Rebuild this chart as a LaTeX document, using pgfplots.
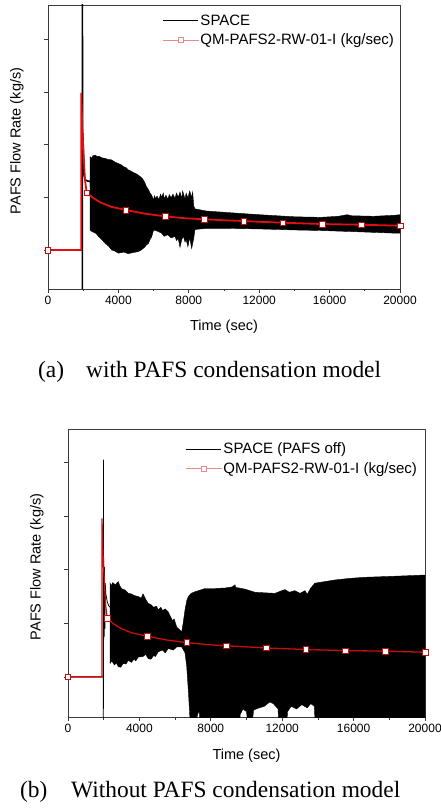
\documentclass[border=0pt]{standalone}
\usepackage{fontspec}
\setmainfont{Liberation Sans}
\newfontfamily\capfont{Liberation Serif}
\usepackage{pgfplots}
\pgfplotsset{compat=1.18}
\definecolor{redline}{HTML}{E01010}
\definecolor{legred}{HTML}{E88A8A}
\definecolor{framecol}{HTML}{3A3A3A}

\pgfplotsset{
  pafs/.style={
    scale only axis,
    xmin=0, xmax=20000,
    scaled x ticks=false,
    xtick={0,4000,8000,12000,16000,20000},
    xticklabels={0,4000,8000,12000,16000,20000},
    minor xtick={2000,6000,10000,14000,18000},
    ytick={0,1,2,3,4},
    yticklabels={},
    tick align=outside,
    xtick pos=bottom, ytick pos=left,
    major tick length=4pt, minor tick length=2.5pt,
    tick style={color=framecol, line width=0.7pt},
    axis line style={color=framecol, line width=0.8pt},
    tick label style={font=\fontsize{12}{14}\selectfont},
    label style={font=\fontsize{14.5}{17}\selectfont},
    xlabel={Time (sec)},
    ylabel={PAFS Flow Rate (kg/s)},
    xlabel style={at={([yshift=-42pt]axis description cs:0.5,0)}, anchor=base},
    ylabel style={at={([xshift=-31pt,yshift=6pt]axis description cs:0,0.5)}, anchor=center},
    legend cell align=left,
    legend style={draw=none, fill=none, font=\fontsize{15}{18}\selectfont,
      anchor=north west, inner sep=0pt, row sep=4pt, nodes={inner sep=1.5pt}},
  },
  redleg/.style={
    legend image code/.code={
      \draw[color=legred, line width=0.6pt] (0pt,0pt) -- (36pt,0pt);
      \draw[color=legred, fill=white, line width=0.6pt] (15.8pt,-2.3pt) rectangle (20.2pt,2.3pt);
    }
  },
  blackleg/.style={
    legend image code/.code={\draw[##1] (0pt,0pt) -- (35pt,0pt);}
  },
}

\begin{document}
\begin{tikzpicture}
\path[use as bounding box] (0pt,0pt) rectangle (441pt,812pt);

% ---------------- panel (a) ----------------
\begin{axis}[pafs,
  at={(48pt,523pt)}, anchor=south west,
  width=352pt, height=284pt,
  ymin=-0.74, ymax=4.65,
  legend style={at={(0.323,0.972)}},
]
\addplot[black, line width=1.6pt, blackleg] coordinates {
(0,0)(1950,0)(1950,-1)(1955,5)(1962,2.28)(1990,2.1)(2020,1.7)(2060,1.42)(2120,1.33)(2250,1.31)(2386,1.3)
};
\addlegendentry{SPACE}
\addplot[black, fill=black, line width=0.4pt, forget plot] coordinates {
(2386,1.3)(2390,1.77)(2480,1.74)(2550,1.79)(2700,1.80)(2800,1.77)(2900,1.78)(3050,1.75)(3239,1.74)(3400,1.72)(3617,1.71)(3800,1.67)(4000,1.64)(4150,1.62)(4300,1.58)(4450,1.56)(4564,1.52)(4700,1.50)(4850,1.47)(5000,1.45)(5133,1.42)(5250,1.39)(5350,1.36)(5450,1.31)(5511,1.27)(5600,1.20)(5700,1.15)(5800,1.08)(5890,1.04)(6000,0.95)(6050,1.03)(6100,0.98)(6200,1.02)(6300,0.96)(6400,1.06)(6458,1.0)(6550,1.08)(6600,0.97)(6700,1.04)(6800,0.97)(6900,1.05)(7000,0.99)(7100,1.06)(7216,0.98)(7300,1.08)(7400,1.0)(7500,1.10)(7600,0.98)(7650,1.12)(7784,0.97)(7850,1.08)(7950,0.99)(8050,1.12)(8163,1.0)(8220,1.10)(8280,0.84)(8352,0.78)(9000,0.74)(10245,0.71)(12000,0.67)(14034,0.63)(15500,0.62)(16500,0.64)(17000,0.67)(17254,0.65)(18500,0.64)(19716,0.66)(20000,0.67)
(20000,0.32)(19716,0.32)(17254,0.35)(15500,0.37)(14034,0.38)(12000,0.40)(10245,0.41)(9000,0.41)(8352,0.39)(8280,0.22)(8163,0.03)(8050,0.24)(7950,0.06)(7850,0.2)(7784,0.15)(7700,0.26)(7600,0.2)(7500,0.05)(7400,0.22)(7300,0.18)(7216,0.26)(7000,0.23)(6800,0.29)(6600,0.26)(6458,0.32)(6200,0.36)(6000,0.38)(5890,0.25)(5800,0.2)(5700,0.12)(5600,0.1)(5511,0.06)(5300,0.0)(5133,-0.03)(4800,-0.05)(4564,-0.07)(4300,-0.04)(4000,-0.06)(3800,-0.02)(3617,0)(3450,0.07)(3239,0.13)(3050,0.2)(2900,0.25)(2700,0.32)(2500,0.35)(2390,0.38)
} -- cycle;
\addplot[redline, line width=1.8pt, mark=square*, mark size=2.8pt,
  mark options={fill=white, draw=redline!85!black, line width=0.6pt, solid},
  mark indices={1,7,11,13,15,17,19,21,23,25}, redleg] coordinates {
(0,0)(1890,0)(1890,2.98)(1950,2.3)(2010,1.9)(2100,1.33)(2200,1.087)(2600,0.98)(3000,0.9)(3600,0.82)(4430,0.759)(5500,0.69)(6650,0.639)(7700,0.605)(8880,0.582)(10000,0.565)(11120,0.55)(12200,0.533)(13350,0.518)(14500,0.505)(15570,0.493)(16700,0.486)(17800,0.48)(18900,0.47)(20000,0.461)
};
\addlegendentry{QM-PAFS2-RW-01-I (kg/sec)}
\end{axis}

% ---------------- panel (b) ----------------
\begin{axis}[pafs,
  at={(68pt,95pt)}, anchor=south west,
  width=357pt, height=288pt,
  ymin=-0.75, ymax=4.63,
  legend style={at={(0.328,0.957)}},
]
\addplot[black, line width=0.8pt, blackleg] coordinates {
(0,0)(1980,0)(1980,-1)(1985,4.06)(1995,0.69)(2005,2.24)(2025,0.75)(2045,2.05)(2065,0.9)(2085,1.75)(2120,1.55)(2200,1.4)(2280,1.33)(2353,1.3)
};
\addlegendentry{SPACE (PAFS off)}
\addplot[black, fill=black, line width=0.4pt, forget plot] coordinates {
(2353,1.3)(2360,1.75)(2420,1.70)(2500,1.76)(2650,1.72)(2820,1.78)(2900,1.70)(3000,1.65)(3200,1.62)(3380,1.56)(3550,1.55)(3700,1.52)(3940,1.50)(4100,1.47)(4200,1.55)(4350,1.45)(4500,1.37)(4650,1.35)(4800,1.30)(4950,1.32)(5060,1.25)(5200,1.3)(5300,1.24)(5450,1.27)(5620,1.21)(5750,1.12)(5850,1.05)(5950,1.08)(6090,0.93)(6250,0.88)(6370,0.84)(6450,1.0)(6555,1.25)(6650,1.42)(6740,1.50)(6900,1.56)(7115,1.59)(7400,1.62)(7675,1.65)(8235,1.65)(8800,1.66)(9200,1.68)(9356,1.72)(9400,1.67)(9900,1.64)(10476,1.58)(11000,1.57)(11597,1.56)(11900,1.6)(12157,1.63)(12400,1.58)(12700,1.61)(13000,1.56)(13277,1.61)(13400,1.54)(13600,1.66)(13838,1.75)(14400,1.78)(14958,1.81)(15800,1.84)(16639,1.86)(17500,1.87)(18319,1.88)(19100,1.89)(19815,1.90)(20000,1.90)
(20000,-0.9)(14000,-0.9)(13850,-0.9)(13800,-0.55)(13600,-0.5)(13400,-0.58)(13100,-0.52)(12800,-0.6)(12500,-0.55)(12300,-0.65)(12250,-0.9)(11800,-0.9)(11770,-0.6)(11500,-0.5)(11300,-0.47)(11000,-0.55)(10700,-0.58)(10400,-0.62)(10300,-0.9)(10080,-0.9)(10000,-0.65)(9800,-0.6)(9650,-0.7)(9600,-0.9)(7420,-0.9)(7350,-0.65)(7250,-0.7)(7200,-0.9)(6850,-0.9)(6750,-0.3)(6650,0.2)(6555,0.45)(6370,0.56)(6090,0.56)(5900,0.5)(5620,0.53)(5450,0.45)(5300,0.5)(5060,0.47)(4900,0.38)(4800,0.4)(4650,0.33)(4500,0.34)(4350,0.42)(4200,0.38)(3940,0.37)(3800,0.3)(3700,0.33)(3550,0.27)(3380,0.31)(3250,0.24)(3100,0.25)(2950,0.18)(2820,0.19)(2700,0.26)(2600,0.22)(2450,0.3)(2360,0.25)
} -- cycle;
\addplot[redline!90!black, line width=1.3pt, mark=square*, mark size=2.8pt,
  mark options={fill=white, draw=redline!85!black, line width=0.6pt, solid},
  mark indices={1,7,11,13,15,17,19,21,23,25}, redleg] coordinates {
(0,0)(1900,0)(1900,2.96)(1960,2.3)(2020,1.9)(2110,1.33)(2200,1.09)(2600,0.98)(3000,0.9)(3600,0.82)(4430,0.76)(5500,0.69)(6650,0.64)(7700,0.605)(8870,0.58)(10000,0.56)(11100,0.54)(12200,0.525)(13320,0.51)(14500,0.5)(15540,0.49)(16700,0.485)(17760,0.48)(18900,0.47)(20000,0.46)
};
\addlegendentry{QM-PAFS2-RW-01-I (kg/sec)}
\end{axis}

% ---------------- captions ----------------
\node[anchor=base west, inner sep=0pt, font=\capfont\fontsize{23.4}{28}\selectfont] at (38pt,434.7pt) {(a)};
\node[anchor=base west, inner sep=0pt, font=\capfont\fontsize{23.4}{28}\selectfont] at (86pt,434.7pt) {with PAFS condensation model};
\node[anchor=base west, inner sep=0pt, font=\capfont\fontsize{23.4}{28}\selectfont] at (20pt,14.7pt) {(b)};
\node[anchor=base west, inner sep=0pt, font=\capfont\fontsize{23.4}{28}\selectfont] at (71pt,14.7pt) {Without PAFS condensation model};
\end{tikzpicture}
\end{document}
